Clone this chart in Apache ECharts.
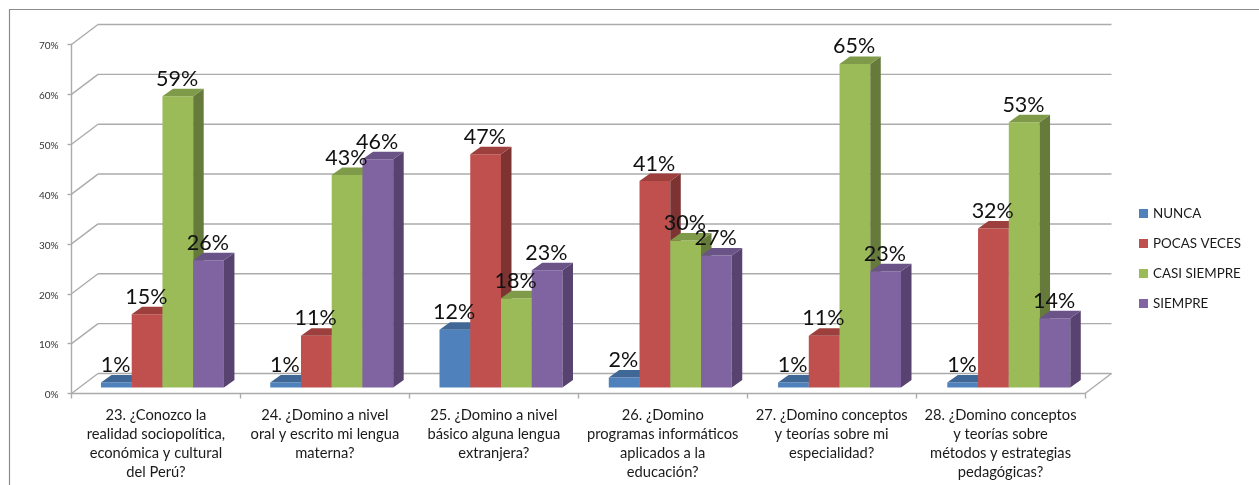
<!DOCTYPE html>
<html><head><meta charset="utf-8">
<style>html,body{margin:0;padding:0;background:#fff}#c{width:1259px;height:485px}</style>
<script src="https://cdn.jsdelivr.net/npm/echarts@6/dist/echarts.min.js"></script>
</head><body><div id="c"></div>
<script>
const categories = [
  "23. ¿Conozco la\nrealidad sociopolítica,\neconómica y cultural\ndel Perú?",
  "24. ¿Domino a nivel\noral y escrito mi lengua\nmaterna?",
  "25. ¿Domino a nivel\nbásico alguna lengua\nextranjera?",
  "26. ¿Domino\nprogramas informáticos\naplicados a la\neducación?",
  "27. ¿Domino conceptos\ny teorías sobre mi\nespecialidad?",
  "28. ¿Domino conceptos\ny teorías sobre\nmétodos y estrategias\npedagógicas?"
];
const seriesNames = ["NUNCA","POCAS VECES","CASI SIEMPRE","SIEMPRE"];
const nunca   = [1, 1, 11.6, 2, 1, 1];
const pocas   = [14.7, 10.4, 46.8, 41.4, 10.4, 31.9];
const casi    = [58.4, 42.6, 17.9, 29.5, 64.9, 53.2];
const siempre = [25.5, 45.8, 23.5, 26.5, 23.3, 13.9];
const nuncaLabels   = [1, 1, 12, 2, 1, 1];
const pocasLabels   = [15, 11, 47, 41, 11, 32];
const casiLabels    = [59, 43, 18, 30, 65, 53];
const siempreLabels = [26, 46, 23, 27, 23, 14];
const yTicks = [0,10,20,30,40,50,60,70];
const front = ["#4F81BD","#C0504D","#9BBB59","#8064A2"];
const sides = ["#3A5F8C","#7C3332","#667A3C","#574270"];
const tops  = ["#3F6897","#9C3F3D","#7F9A49","#6A5387"];

const DX = 26.5, DY = 20;      // wall depth
const BDX = 10.5, BDY = 7.5;   // bar depth
const OX = 6.5, OY = 6;        // bar offset on floor
const FONT = "Lato, Carlito, sans-serif";

const chart = echarts.init(document.getElementById('c'));
function barSeries(idx, vals, labels){
  return {
    name: seriesNames[idx], type:'custom', coordinateSystem:'cartesian2d',
    itemStyle:{color:front[idx]},
    data: vals.map((v,i)=>[i,v,labels[i]]),
    encode:{x:0,y:1},
    z:3, silent:true,
    renderItem(params, api){
      const c = api.value(0), v = api.value(1), lab = api.value(2);
      const top = api.coord([c,v]), base = api.coord([c,0]);
      const w = api.size([1,0])[0]*0.182;
      const x0 = top[0] + OX + c*0.35 + (idx-2)*w, x1 = x0+w;
      const y0 = top[1]-OY, yb = base[1]-OY;
      const poly=(pts,fill)=>({type:'polygon',shape:{points:pts},style:{fill:fill,stroke:null}});
      return {type:'group',children:[
        poly([[x0,yb],[x1,yb],[x1,y0],[x0,y0]],front[idx]),
        poly([[x1,yb],[x1+BDX,yb-BDY],[x1+BDX,y0-BDY],[x1,y0]],sides[idx]),
        poly([[x0,y0],[x1,y0],[x1+BDX,y0-BDY],[x0+BDX,y0-BDY]],tops[idx]),
        {type:'text',z2:100,style:{text:lab+'%',x:x0+w/2-0.7,y:y0-17.5,align:'center',verticalAlign:'middle',
          font:'21.5px '+FONT,fill:'#111'}}
      ]};
    }
  };
}
const wallSeries = {
  type:'custom', coordinateSystem:'cartesian2d', silent:true, z:1,
  data: yTicks.map(t=>[0,t]), encode:{x:0,y:1},
  renderItem(params, api){
    const t = api.value(1);
    const p = api.coord([0,t]);
    const left = api.coord([0,0])[0]-api.size([1,0])[0]/2;
    const right = left + api.size([1,0])[0]*categories.length;
    const st={stroke:'#ABABAB',lineWidth:1.4,fill:null};
    const kids=[
      {type:'line',shape:{x1:left,y1:p[1],x2:left+DX,y2:p[1]-DY},style:st},
      {type:'line',shape:{x1:left+DX,y1:p[1]-DY,x2:right+DX,y2:p[1]-DY},style:st}
    ];
    if(t===0) kids.push({type:'line',shape:{x1:right,y1:p[1],x2:right+DX,y2:p[1]-DY},style:st});
    return {type:'group',children:kids};
  }
};
chart.setOption({
  animation:false,
  backgroundColor:'#fff',
  grid:{left:71.5,right:174,top:44.5,bottom:91.5},
  legend:{
    orient:'vertical', left:1139, top:207, itemWidth:9, itemHeight:9, itemGap:17,
    icon:'rect', data:seriesNames, selectedMode:false,
    textStyle:{fontFamily:FONT,fontSize:13.4,color:'#1a1a1a'}, padding:0
  },
  xAxis:{type:'category',data:categories,
    axisLine:{lineStyle:{color:'#ABABAB',width:1.4}},
    axisTick:{show:true,length:5,lineStyle:{color:'#ABABAB',width:1.4}},
    axisLabel:{interval:0,fontFamily:FONT,fontSize:14.7,color:'#1a1a1a',lineHeight:19,margin:12},
    splitLine:{show:false}},
  yAxis:{type:'value',min:0,max:70,interval:10,
    axisLine:{show:true,lineStyle:{color:'#ABABAB',width:1.4}},
    axisTick:{show:true,length:4,lineStyle:{color:'#ABABAB',width:1.4}},
    axisLabel:{formatter:'{a|{value}%}',margin:13,
      rich:{a:{fontFamily:FONT,fontSize:10,color:'#333',padding:[3,0,0,0]}}},
    splitLine:{show:false}},
  graphic:[{type:'polyline',silent:true,shape:{points:[[9.5,485],[9.5,9.5],[1259,9.5]]},style:{stroke:'#8C8C8C',lineWidth:1.2,fill:null}}],
  series:[wallSeries,barSeries(0,nunca,nuncaLabels),barSeries(1,pocas,pocasLabels),barSeries(2,casi,casiLabels),barSeries(3,siempre,siempreLabels)]
});
</script></body></html>
